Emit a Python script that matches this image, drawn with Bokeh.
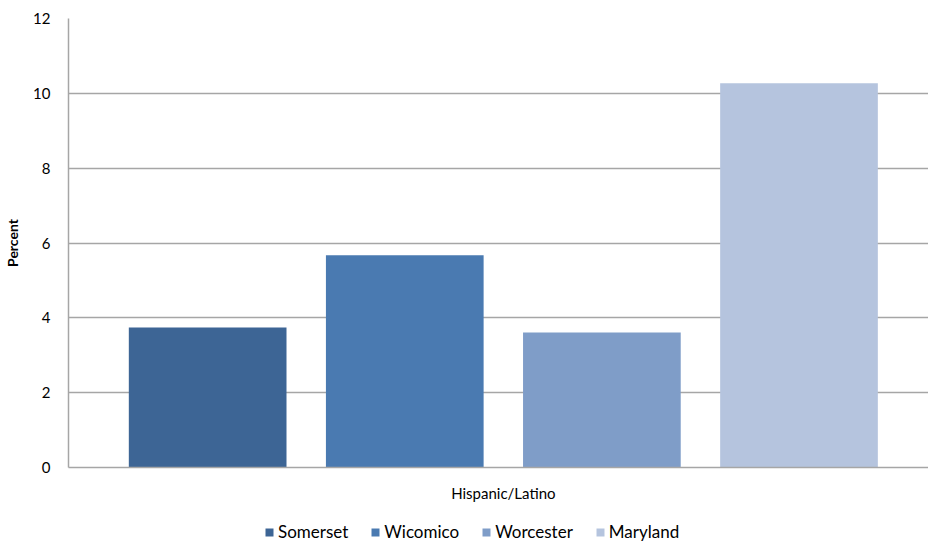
from bokeh.plotting import figure
from bokeh.layouts import column
from bokeh.models import ColumnDataSource, Range1d, FixedTicker, Legend, LegendItem
from bokeh.embed import file_html
from bokeh.resources import INLINE

counties = ["Somerset", "Wicomico", "Worcester", "Maryland"]
values = [3.74, 5.67, 3.61, 10.27]
colors = ["#3D6595", "#4A7AB1", "#7F9DC8", "#B5C4DE"]
category = "Hispanic/Latino"
y_ticks = [0, 2, 4, 6, 8, 10, 12]

FONT = "Lato"

src = ColumnDataSource(dict(x=list(range(len(counties))), top=values, color=colors, name=counties))

p = figure(width=928, height=505, output_backend="svg", toolbar_location=None,
           x_range=Range1d(-0.706, 3.657), y_range=Range1d(0, 12),
           min_border_left=68, min_border_right=0, min_border_top=18, min_border_bottom=38)
p.outline_line_color = None

r = p.vbar(x="x", top="top", width=0.80, bottom=0, color="color", source=src, line_color=None)

# grid
p.xgrid.grid_line_color = None
p.ygrid.grid_line_color = "#A6A6A6"
p.ygrid.grid_line_width = 1.5
p.ygrid.ticker = FixedTicker(ticks=y_ticks)

# y axis
p.yaxis.ticker = FixedTicker(ticks=y_ticks)
p.yaxis.axis_line_color = "#A6A6A6"
p.yaxis.axis_line_width = 1.5
p.yaxis.major_tick_line_color = None
p.yaxis.minor_tick_line_color = None
p.yaxis.major_label_text_font = FONT
p.yaxis.major_label_text_font_size = "15px"
p.yaxis.major_label_text_color = "#000000"
p.yaxis.major_label_standoff = 12
p.yaxis.axis_label = "Percent"
p.yaxis.axis_label_text_font = FONT
p.yaxis.axis_label_text_font_style = "bold"
p.yaxis.axis_label_text_font_size = "14px"
p.yaxis.axis_label_text_color = "#000000"
p.yaxis.axis_label_standoff = 9

# x axis
p.xaxis.ticker = FixedTicker(ticks=[1.5])
p.xaxis.major_label_overrides = {1.5: category}
p.xaxis.axis_line_color = "#A6A6A6"
p.xaxis.axis_line_width = 1.5
p.xaxis.major_tick_line_color = None
p.xaxis.minor_tick_line_color = None
p.xaxis.major_label_text_font = FONT
p.xaxis.major_label_text_font_size = "15px"
p.xaxis.major_label_text_color = "#000000"
p.xaxis.major_label_standoff = 10

# legend strip (separate figure below the chart)
lg = figure(width=928, height=37, output_backend="svg", toolbar_location=None,
            x_range=Range1d(0, 1), y_range=Range1d(0, 1),
            x_axis_type=None, y_axis_type=None,
            min_border_left=0, min_border_right=0, min_border_top=0, min_border_bottom=0)
lg.outline_line_color = None
lg.xgrid.visible = False
lg.ygrid.visible = False

items = []
for c, col in zip(counties, colors):
    # zero-height placeholder bar; only its legend swatch shows
    rr = lg.vbar(x=[-5], top=[0], bottom=[0], width=0, fill_color=col, line_color=None)
    items.append(LegendItem(label=c, renderers=[rr]))

legend = Legend(items=items, orientation="horizontal", location=(196, 0),
                border_line_color=None, background_fill_alpha=0,
                label_text_font=FONT, label_text_font_size="17px",
                label_text_color="#000000",
                glyph_width=10, glyph_height=10, spacing=22, label_standoff=4,
                padding=0, margin=0)
lg.add_layout(legend, "center")

layout = column(p, lg, spacing=0)

open("out.html", "w").write(file_html(layout, INLINE))
